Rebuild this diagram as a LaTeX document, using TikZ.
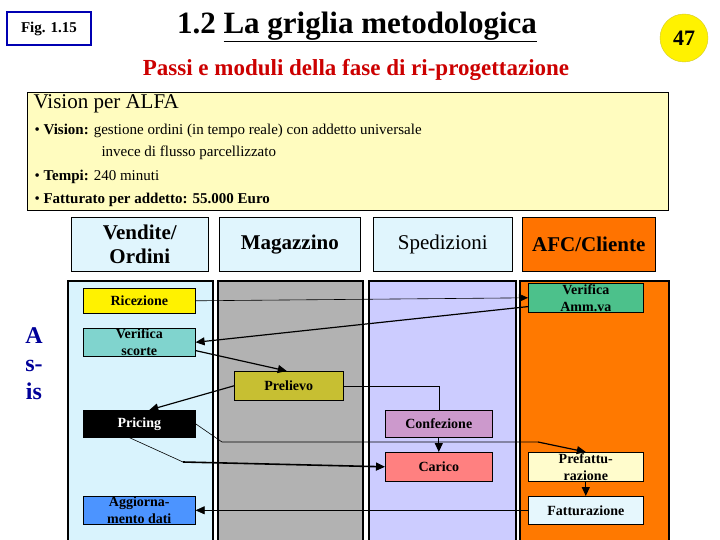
\documentclass[tikz,border=0pt]{standalone}
\usepackage{fontspec}
\setmainfont{Liberation Serif}
\usetikzlibrary{arrows.meta}
\begin{document}
\begin{tikzpicture}[x=1pt,y=-1pt,font=\bfseries,
  box/.style={draw,line width=0.6pt,inner sep=0pt,anchor=north west,align=center,font=\fontsize{14}{17}\selectfont\bfseries},
  hdr/.style={draw,line width=0.6pt,inner sep=0pt,anchor=north west,align=center,font=\fontsize{21}{24}\selectfont\bfseries},
  lane/.style={draw,line width=2pt,anchor=north west,inner sep=0pt},
  vt/.style={anchor=west,font=\fontsize{15}{17}\selectfont\mdseries},
  arr/.style={-{Triangle[length=9pt,width=8pt]},line width=1.2pt},
  ln/.style={line width=0.6pt}]
\useasboundingbox (0,0) rectangle (720,540);
\fill[white] (0,0) rectangle (720,540);
% header
\node[draw=blue!70!black,line width=2pt,minimum width=84pt,minimum height=33pt,anchor=north west,inner sep=0pt,font=\fontsize{15}{17}\selectfont\bfseries] (fig) at (6,11) {Fig. 1.15};
\node[font=\fontsize{31}{34}\selectfont\bfseries] (title) at (357,27) {1.2 \underline{La griglia metodologica}};
\node[circle,fill=yellow,draw=yellow!80!black,minimum size=48pt,inner sep=0pt,font=\fontsize{22}{24}\selectfont\bfseries] (num) at (684,38) {47};
\node[text=red!80!black,font=\fontsize{23}{25}\selectfont\bfseries] (sub) at (356,70) {Passi e moduli della fase di ri-progettazione};
\node[draw,fill=yellow!25,line width=0.6pt,minimum width=641pt,minimum height=118pt,anchor=north west,inner sep=0pt] (vis) at (27,92) {};
\node[anchor=west,font=\fontsize{21}{23}\selectfont\mdseries] (v0) at (30,104) {Vision per ALFA};
\node[vt] (v1) at (31,131) {\textbullet\ \textbf{Vision:} gestione ordini (in tempo reale) con addetto universale};
\node[vt] (v2) at (98,153) {invece di flusso parcellizzato};
\node[vt] (v3) at (31,177) {\textbullet\ \textbf{Tempi:} 240 minuti};
\node[vt] (v4) at (31,200) {\textbullet\ \textbf{Fatturato per addetto: 55.000 Euro}};
% column headers
\node[hdr,fill=cyan!12,minimum width=137pt,minimum height=54pt] (h1) at (71,217) {Vendite/\\Ordini};
\node[hdr,fill=cyan!12,minimum width=141pt,minimum height=54pt] (h2) at (219,217) {Magazzino};
\node[hdr,fill=cyan!12,minimum width=139pt,minimum height=54pt,font=\fontsize{21}{23}\selectfont\mdseries] (h3) at (373,217) {Spedizioni};
\node[hdr,fill=orange!90!red,minimum width=133pt,minimum height=54pt] (h4) at (522,217) {AFC/Cliente};
% lanes
\node[lane,fill=cyan!15,minimum width=145pt,minimum height=262pt] (l1) at (67,280) {};
\node[lane,fill=black!30,minimum width=145pt,minimum height=262pt] (l2) at (217,280) {};
\node[lane,fill=blue!20,minimum width=147pt,minimum height=262pt] (l3) at (368,280) {};
\node[lane,fill=orange!95!red,minimum width=149pt,minimum height=262pt] (l4) at (519,280) {};
\node[text=blue!60!black,align=center,font=\fontsize{24}{28}\selectfont\bfseries] (asis) at (34,364) {A\\s-\\is};
% boxes
\node[box,fill=yellow,minimum width=112pt,minimum height=25pt] (ric) at (83,288) {Ricezione};
\node[box,fill=cyan!60!green!50,minimum width=112pt,minimum height=28pt] (vsc) at (83,328) {Verifica\\scorte};
\node[box,fill=yellow!75!black,minimum width=109pt,minimum height=29pt] (pre) at (234,371) {Prelievo};
\node[box,fill=black,text=white,minimum width=112pt,minimum height=27pt] (pri) at (83,410) {Pricing};
\node[box,fill=violet!40,minimum width=107pt,minimum height=27pt] (con) at (385,410) {Confezione};
\node[box,fill=red!50,minimum width=107pt,minimum height=29pt] (car) at (385,452) {Carico};
\node[box,fill=teal!70!green!70,minimum width=115pt,minimum height=29pt] (vam) at (528,283) {Verifica\\Amm.va};
\node[box,fill=yellow!20,minimum width=115pt,minimum height=29pt] (pft) at (528,452) {Prefattu-\\razione};
\node[box,fill=cyan!10,minimum width=115pt,minimum height=28pt] (fat) at (528,496) {Fatturazione};
\node[box,fill=blue!60!cyan!70,minimum width=112pt,minimum height=28pt] (agg) at (83,496) {Aggiorna-\\mento dati};
% connectors
\draw[ln,-{Triangle[length=9pt,width=8pt]}] (ric.east) -- (vam.west);
\draw[arr] (vam.south west) ++(0,-6) coordinate (c1) (c1) -- (vsc.east);
\draw[arr] (vsc.south east) ++(0,-6) coordinate (c2) (c2) -- ([xshift=-2pt]pre.north);
\draw[arr] (pre.west) -- ([xshift=10pt]pri.north);
\draw[ln] (pre.east) -| (con.north);
\draw[arr] (con.south) -- (car.north);
\draw[ln] (pri.east) -- (222,442) -- (538,442);
\draw[arr] (538,442) -- (pft.north);
\draw[ln] ([xshift=-10pt]pri.south) -- (183,462);
\draw[arr,line width=1.6pt] (183,462) -- (car.west);
\draw[arr] (pft.south) -- (fat.north);
\draw[ln,-{Triangle[length=9pt,width=8pt]}] (fat.west) -- (agg.east);
\end{tikzpicture}
\end{document}
